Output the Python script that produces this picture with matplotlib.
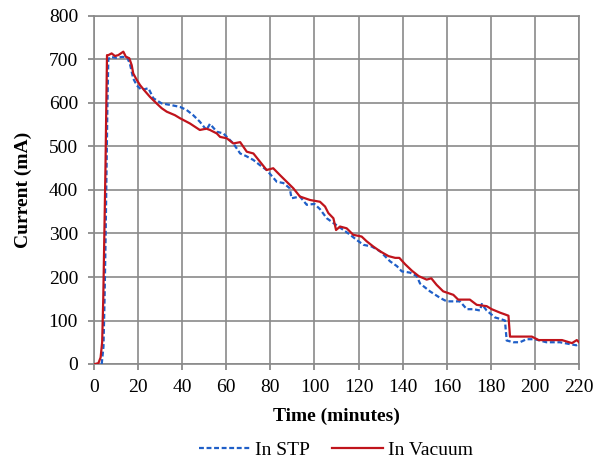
import matplotlib
matplotlib.use("Agg")
import matplotlib.pyplot as plt

# In Vacuum (red, solid)
t_vac = [0.5, 2, 3, 3.7, 4.2, 4.7, 5.2, 5.6, 5.9, 6.5, 8.0, 9.5, 11, 13.3, 14.5, 16, 17.1, 17.8, 19.4,
         20.9, 23, 25.4, 28.4, 30.7, 33, 36.7, 39, 43.5, 48, 51, 52.6, 55.7, 57.2, 60.2, 63.2, 66.3,
         69.3, 72.3, 75.3, 78.3, 81.3, 84.4, 87.4, 90.4, 93.4, 98, 102.5, 104.8, 106.3, 108.6, 109.8,
         111.6, 114.6, 117.6, 121.4, 123.7, 126.7, 129.8, 133.6, 136.6, 138.5, 141.2, 144.3, 147.3,
         150.9, 153, 155.4, 158.4, 163, 165.2, 170.5, 173.6, 178.1, 180.4, 184.2, 186.4, 188,
         188.7, 193, 198.6, 201.7, 207.7, 212.3, 216.8, 219, 220]
v_vac = [0, 2, 15, 50, 150, 300, 450, 600, 710, 710, 714, 708, 710, 718, 706, 703, 687, 668, 653,
         641, 628, 614, 599, 588, 580, 572, 565, 553, 538, 541, 538, 530, 522, 519, 507, 510,
         488, 484, 465, 446, 450, 434, 419, 404, 385, 377, 373, 362, 347, 335, 308,
         316, 312, 297, 293, 282, 270, 259, 248, 244, 244, 229, 214, 202,
         194, 197, 182, 167, 159, 148, 148, 136, 133, 126, 118, 114, 111,
         63, 63, 63, 55, 55, 55, 48, 55, 50]

# In STP (blue, dashed)
t_stp = [3.5, 4.3, 4.8, 5.3, 5.7, 6.1, 6.5, 7.3, 10, 13, 15, 16.3, 17.8, 19.5, 21.6, 24.7, 26.9,
         30.7, 35.2, 39, 42, 45, 48, 51, 52.6, 55.7, 58.7, 63.2, 66.3, 69, 72.3, 75.3, 78.3, 82.9,
         85.9, 88.8, 89.6, 93.4, 96.5, 100, 102.5, 105.6, 108.6, 110.9, 113.2, 116.2, 119.2, 122.2,
         126, 129.8, 134.3, 137.4, 139.6, 143.4, 146.4, 147.9, 152.4, 157, 160, 166, 169.1, 172.1,
         175.1, 175.9, 178.1, 181.9, 184, 186.4, 187.2, 190.2, 193.2, 196.2, 200, 205.2, 211.3,
         218.8, 220]
v_stp = [0, 40, 150, 300, 450, 600, 700, 706, 704, 706, 705, 690, 656, 640, 630, 634, 611,
         599, 595, 591, 584, 572, 557, 538, 552, 534, 530, 507, 484, 478, 469, 457, 446, 419,
         416, 404, 381, 385, 366, 368, 356, 335, 324, 316, 308, 297, 285, 274,
         270, 259, 236, 225, 213, 210, 202, 185, 167, 152, 144, 144, 126, 126,
         123, 138, 123, 107, 104, 100, 54, 50, 50, 57, 57, 50, 50,
         43, 46]

x_ticks = list(range(0, 221, 20))
y_ticks = list(range(0, 801, 100))

plt.rcParams['font.family'] = ['Liberation Serif', 'DejaVu Serif']

fig = plt.figure(figsize=(6.04, 4.62), dpi=100)
ax = fig.add_axes([94 / 604, 1 - 364 / 462, 485 / 604, 348 / 462])

ax.plot(t_stp, v_stp, color='#1f5fc8', linestyle=(0, (2.2, 1.2)), linewidth=1.6, label='In STP', zorder=3)
ax.plot(t_vac, v_vac, color='#c0141c', linestyle='-', linewidth=1.6, label='In Vacuum', zorder=4)

ax.set_xlim(0, 220)
ax.set_ylim(0, 800)
ax.set_xticks(x_ticks)
ax.set_yticks(y_ticks)
ax.tick_params(axis='both', labelsize=14, direction='out', length=4.5, color='#808080', width=1.2)
ax.tick_params(axis='y', pad=7)
ax.tick_params(axis='x', pad=6)
ax.grid(True, color='#8a8a8a', linewidth=1.2)
ax.set_axisbelow(True)
for s in ax.spines.values():
    s.set_color('#8a8a8a')
    s.set_linewidth(1.2)

ax.set_xlabel('Time (minutes)', fontsize=14, fontweight='bold')
ax.set_ylabel('Current (mA)', fontsize=14, fontweight='bold')
ax.xaxis.set_label_coords(0.5, -0.126)
ax.yaxis.set_label_coords(-0.128, 0.5)

leg = fig.legend(loc='center', bbox_to_anchor=(336 / 604, 0.026), ncol=2, frameon=False,
                 fontsize=14, handlelength=2.65, columnspacing=1.1, handletextpad=0.26)

fig.savefig('out.png', dpi=100)
